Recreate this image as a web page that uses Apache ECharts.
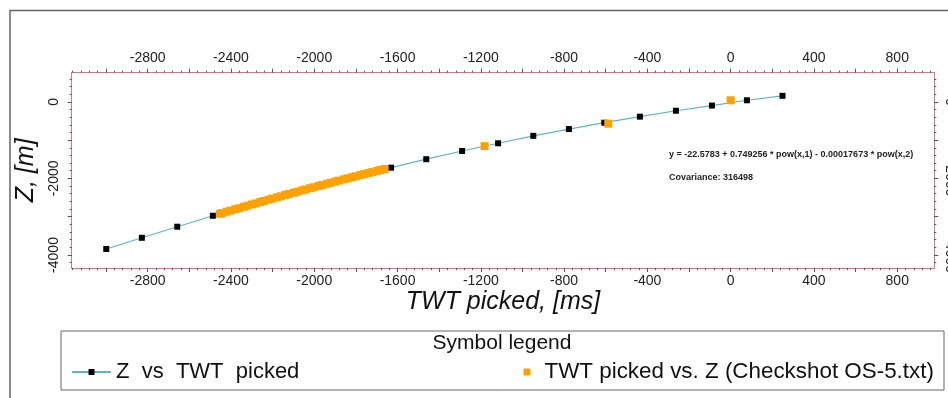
<!DOCTYPE html>
<html>
<head>
<meta charset="utf-8">
<script src="https://cdn.jsdelivr.net/npm/echarts@6/dist/echarts.min.js"></script>
<style>
  html, body { margin: 0; padding: 0; background: #ffffff; }
  #chart { width: 948px; height: 398px; }
</style>
</head>
<body>
<div id="chart"></div>
<script>
// Picked well tops: two-way time [ms] and depth Z [m]
const twtPicked = [-2999, -2828, -2658, -2487, -1631, -1462, -1290, -1117, -948, -777, -607, -436, -263, -90, 78, 249];
const zPicked   = [-3843, -3551, -3262, -2976, -1720, -1499, -1285, -1083, -889, -712, -546, -388, -233, -98, 40, 156];

// Checkshot OS-5 samples: two-way time [ms] and depth Z [m]
const twtCheckshot = [-2453, -2443, -2421, -2402, -2379, -2361, -2338, -2321, -2299, -2281, -2259, -2242, -2219, -2201,
                      -2178, -2161, -2139, -2122, -2098, -2081, -2058, -2041, -2019, -2002, -1979, -1961, -1938, -1921,
                      -1899, -1882, -1858, -1841, -1819, -1801, -1778, -1762, -1739, -1721, -1698, -1681, -1662,
                      -1182, -588, 0];
const zCheckshot   = [-2924, -2907, -2869, -2842, -2805, -2779, -2741, -2715, -2679, -2653, -2617, -2591, -2555, -2529,
                      -2493, -2468, -2433, -2408, -2372, -2348, -2313, -2289, -2255, -2231, -2197, -2172, -2138, -2114,
                      -2082, -2058, -2024, -2001, -1970, -1945, -1913, -1890, -1859, -1835, -1804, -1781, -1755,
                      -1157, -570, 40];

// Tick labels
const xTickLabels = [-2800, -2400, -2000, -1600, -1200, -800, -400, 0, 400, 800];
const yTickLabels = [-4000, -2000, 0];

// Series names and annotation texts
const pickedName = 'Z  vs  TWT  picked';
const checkshotName = 'TWT picked vs. Z (Checkshot OS-5.txt)';
const fitText = 'y = -22.5783 + 0.749256 * pow(x,1) - 0.00017673 * pow(x,2)';
const covText = 'Covariance: 316498';

// Axis extents
const X_MIN = -3165, X_MAX = 978;
const Y_MIN = -4340, Y_MAX = 760;

function ticksBetween(lo, hi, step) {
  const out = [];
  for (let v = Math.ceil(lo / step) * step; v <= hi; v += step) out.push(v);
  return out;
}
const xMajor = ticksBetween(X_MIN, X_MAX, 200);
const xMinor = ticksBetween(X_MIN, X_MAX, 40);
const yMajor = ticksBetween(Y_MIN, Y_MAX, 1000);
const yMinor = ticksBetween(Y_MIN, Y_MAX, 200);

const FONT = 'Liberation Sans, Arial, sans-serif';
const AXIS_RED = '#cf7c88';
const TICK_GREY = '#555555';
const LINE_TEAL = '#5cb6c6';
const ORANGE = '#ffa200';
const plain = v => String(v);

function xAxisDef(position, major) {
  const top = position === 'top';
  const a = {
    type: 'value', position: position, min: X_MIN, max: X_MAX,
    splitLine: { show: false },
    axisLine: { show: major, onZero: false, lineStyle: { color: AXIS_RED, width: 1 } },
    axisTick: { show: true, customValues: major ? xMajor : xMinor, length: major ? 4 : 2,
                lineStyle: { color: TICK_GREY, width: 1 } },
    axisLabel: { show: major, customValues: xTickLabels, margin: top ? 8 : 6, formatter: plain,
                 fontFamily: FONT, fontSize: 14, color: '#222' }
  };
  if (major && !top) {
    a.name = 'TWT picked, [ms]';
    a.nameLocation = 'middle';
    a.nameGap = 22;
    a.nameTextStyle = { fontFamily: FONT, fontSize: 25, fontStyle: 'italic', color: '#111' };
  }
  return a;
}

function yAxisDef(position, major) {
  const left = position === 'left';
  const a = {
    type: 'value', position: position, min: Y_MIN, max: Y_MAX,
    splitLine: { show: false },
    axisLine: { show: major, onZero: false, lineStyle: { color: AXIS_RED, width: 1 } },
    axisTick: { show: true, customValues: major ? yMajor : yMinor, length: major ? 4 : 2,
                lineStyle: { color: TICK_GREY, width: 1 } },
    axisLabel: { show: major, customValues: yTickLabels, rotate: left ? 90 : -90, formatter: plain,
                 margin: left ? 11 : 9, fontFamily: FONT, fontSize: 14, color: '#222' }
  };
  if (major && left) {
    a.name = 'Z, [m]';
    a.nameLocation = 'middle';
    a.nameGap = 22;
    a.nameTextStyle = { fontFamily: FONT, fontSize: 25, fontStyle: 'italic', color: '#111' };
  }
  return a;
}

const chart = echarts.init(document.getElementById('chart'), null, { renderer: 'canvas' });

chart.setOption({
  animation: false,
  backgroundColor: '#ffffff',
  grid: { left: 71.7, top: 72.7, width: 862.6, height: 195.3, containLabel: false, outerBoundsMode: 'none' },
  xAxis: [xAxisDef('bottom', true), xAxisDef('bottom', false), xAxisDef('top', true), xAxisDef('top', false)],
  yAxis: [yAxisDef('left', true), yAxisDef('left', false), yAxisDef('right', true), yAxisDef('right', false)],
  legend: [
    {
      data: [pickedName], left: 71, top: 361, padding: 0,
      itemWidth: 39, itemHeight: 7.5,
      textStyle: { fontFamily: FONT, fontSize: 22, color: '#111', lineHeight: 22 }
    },
    {
      data: [{ name: checkshotName, icon: 'rect' }], left: 523.5, top: 361, padding: 0,
      itemWidth: 7, itemHeight: 7,
      textStyle: { fontFamily: FONT, fontSize: 22.4, color: '#111', lineHeight: 22, padding: [0, 0, 0, 9] }
    }
  ],
  graphic: [
    { type: 'rect', silent: true, z: -10,
      shape: { x: 10, y: 10.5, width: 1000, height: 500 },
      style: { fill: 'none', stroke: '#666666', lineWidth: 1.5 } },
    { type: 'rect', silent: true,
      shape: { x: 61, y: 331, width: 883, height: 59 },
      style: { fill: 'none', stroke: '#666666', lineWidth: 1 } },
    { type: 'text', silent: true, x: 502, y: 343,
      style: { text: 'Symbol legend', fontFamily: FONT, fontSize: 21, fill: '#111',
               textAlign: 'center', textVerticalAlign: 'middle' } },
    { type: 'text', silent: true, x: 669, y: 155,
      style: { text: fitText, fontFamily: FONT, fontSize: 9, fontWeight: 'bold', fill: '#222',
               textAlign: 'left', textVerticalAlign: 'middle' } },
    { type: 'text', silent: true, x: 669, y: 178,
      style: { text: covText, fontFamily: FONT, fontSize: 9, fontWeight: 'bold', fill: '#222',
               textAlign: 'left', textVerticalAlign: 'middle' } }
  ],
  series: [
    {
      name: pickedName, type: 'line', xAxisIndex: 0, yAxisIndex: 0, z: 2,
      data: twtPicked.map((t, i) => [t, zPicked[i]]),
      symbol: 'rect', symbolSize: 6, showAllSymbol: true,
      itemStyle: { color: '#000000', opacity: 1 },
      lineStyle: { color: LINE_TEAL, width: 1.2 },
      emphasis: { disabled: true }
    },
    {
      name: checkshotName, type: 'scatter', xAxisIndex: 0, yAxisIndex: 0, z: 4,
      data: twtCheckshot.map((t, i) => [t, zCheckshot[i]]),
      symbol: 'rect', symbolSize: 8,
      itemStyle: { color: ORANGE, opacity: 1 },
      emphasis: { disabled: true }
    }
  ]
});
</script>
</body>
</html>
